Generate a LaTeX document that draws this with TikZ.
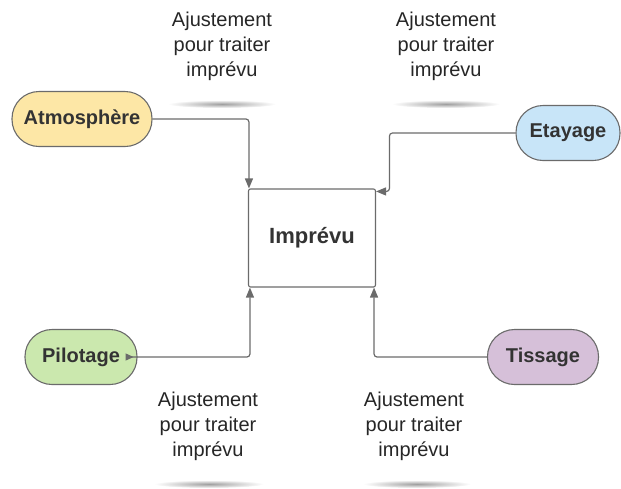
\documentclass[tikz,border=0pt]{standalone}
\usepackage{fontspec}
\setmainfont{Liberation Sans}
\usetikzlibrary{arrows.meta}
\definecolor{atmofill}{HTML}{FDE7A6}
\definecolor{etayfill}{HTML}{C8E5F8}
\definecolor{pilofill}{HTML}{CBE8AE}
\definecolor{tissfill}{HTML}{D6C0D9}
\definecolor{edgegray}{HTML}{6B6B6B}
\definecolor{labelgray}{HTML}{333333}
\tikzset{
	pill/.style={draw=edgegray,line width=1.1pt,rounded corners=27pt,minimum height=55pt,
		text=labelgray,font=\bfseries\fontsize{20}{24}\selectfont},
	link/.style={draw=edgegray,line width=1.2pt,rounded corners=3pt,-{Triangle[length=10pt,width=8pt]}},
	note/.style={align=center,text=black!85,font=\fontsize{20}{25}\selectfont},
	notefoot/.style={inner color=gray!75,outer color=white}
}
\begin{document}
\begin{tikzpicture}[x=1pt,y=-1pt]
			\useasboundingbox (0,0) rectangle (621,488);
			% les quatre dimensions
			\node[pill,fill=atmofill,minimum width=140pt] (atmo) at (82,119) {Atmosphère};
			\node[pill,fill=etayfill,minimum width=104pt] (etay) at (568,133) {Etayage};
			\node[pill,fill=pilofill,minimum width=112pt] (pilo) at (81,357) {Pilotage};
			\node[pill,fill=tissfill,minimum width=111pt] (tiss) at (543,357) {Tissage};
			\node[draw=edgegray,line width=1.1pt,rounded corners=2pt,minimum width=127pt,minimum height=98pt,
				text=labelgray,font=\bfseries\fontsize{22}{26}\selectfont] (impr) at (312,238) {Imprévu};
			% liaisons
			\draw[link] (atmo.east) -| ([xshift=1pt]impr.north west);
			\draw[link] (etay.west) -- ++(-126,0) |- ([yshift=-3pt]impr.north east);
			\draw[link,{Triangle[reversed,length=8pt,width=7pt]}-{Triangle[length=10pt,width=8pt]}]
				([xshift=-12pt]pilo.east) -| ([xshift=2pt]impr.south west);
			\draw[link] (tiss.west) -| ([xshift=-2pt]impr.south east);
			% notes
			\shade[notefoot] (222,104) ellipse (54 and 4);
			\shade[notefoot] (446,104) ellipse (54 and 4);
			\shade[notefoot] (209,484) ellipse (55 and 4);
			\shade[notefoot] (417,484) ellipse (54 and 4);
			\node[note] (note1) at (222,46) {Ajustement\\pour traiter\\imprévu};
			\node[note] (note2) at (446,46) {Ajustement\\pour traiter\\imprévu};
			\node[note] (note3) at (208,426) {Ajustement\\pour traiter\\imprévu};
			\node[note] (note4) at (414,426) {Ajustement\\pour traiter\\imprévu};
\end{tikzpicture}
\end{document}
